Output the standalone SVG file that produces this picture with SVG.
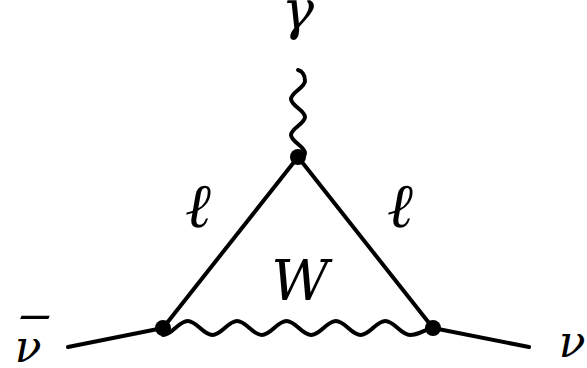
<svg xmlns="http://www.w3.org/2000/svg" width="587" height="368" viewBox="0 0 587 368">
<style>
.ln{fill:none;stroke:#000;stroke-width:4;stroke-linecap:round;stroke-linejoin:round}
.dot{fill:#000}
.lbl{font-family:"DejaVu Serif",serif;font-style:italic;font-size:44px;fill:#000;text-anchor:middle}
</style>
<rect width="587" height="368" fill="#fff"/>
<g id="connectors">
<path id="nubar-line" class="ln" d="M68,347 L163,328"/>
<path id="nu-line" class="ln" d="M433,328 L529,347"/>
<path id="lepton-left" class="ln" d="M163,328 L298,157"/>
<path id="lepton-right" class="ln" d="M298,157 L433,328"/>
<path id="w-boson" class="ln" d="M163,335 c9,0 15.7,-14 24.7,-14 s15.7,14 24.7,14 s15.7,-14 24.7,-14 s15.7,14 24.7,14 s15.7,-14 24.7,-14 s15.7,14 24.7,14 s15.7,-14 24.7,-14 s15.7,14 24.7,14 s15.7,-14 24.7,-14 s15.7,14 24.7,14 C419,335 425,329 433,328"/>
<path id="photon" class="ln" d="M298,157 C303,157 305,155 305,153 c0,-6.5 -14,-11.5 -14,-18 s14,-11.5 14,-18 s-14,-11.5 -14,-18 s14,-11.5 14,-18 c0,-6 -3,-10 -7,-11"/>
</g>
<g id="v-top"><circle class="dot" cx="298" cy="157" r="8"/></g>
<g id="v-left"><circle class="dot" cx="163" cy="328" r="8"/></g>
<g id="v-right"><circle class="dot" cx="433" cy="328" r="8"/></g>
<g id="label-gamma"><text class="lbl" x="298" y="29" style="font-size:54px">γ</text></g>
<g id="label-l-left"><text class="lbl" x="198" y="227" style="font-size:62px">ℓ</text></g>
<g id="label-l-right"><text class="lbl" x="400" y="227" style="font-size:62px">ℓ</text></g>
<g id="label-W"><text class="lbl" x="300" y="300" style="font-size:56px">W</text></g>
<g id="label-nubar"><text class="lbl" x="28" y="362">ν</text><text class="lbl" transform="translate(27,349) scale(2.2,1)" x="0" y="0">¯</text></g>
<g id="label-nu"><text class="lbl" x="572" y="357">ν</text></g>
</svg>
